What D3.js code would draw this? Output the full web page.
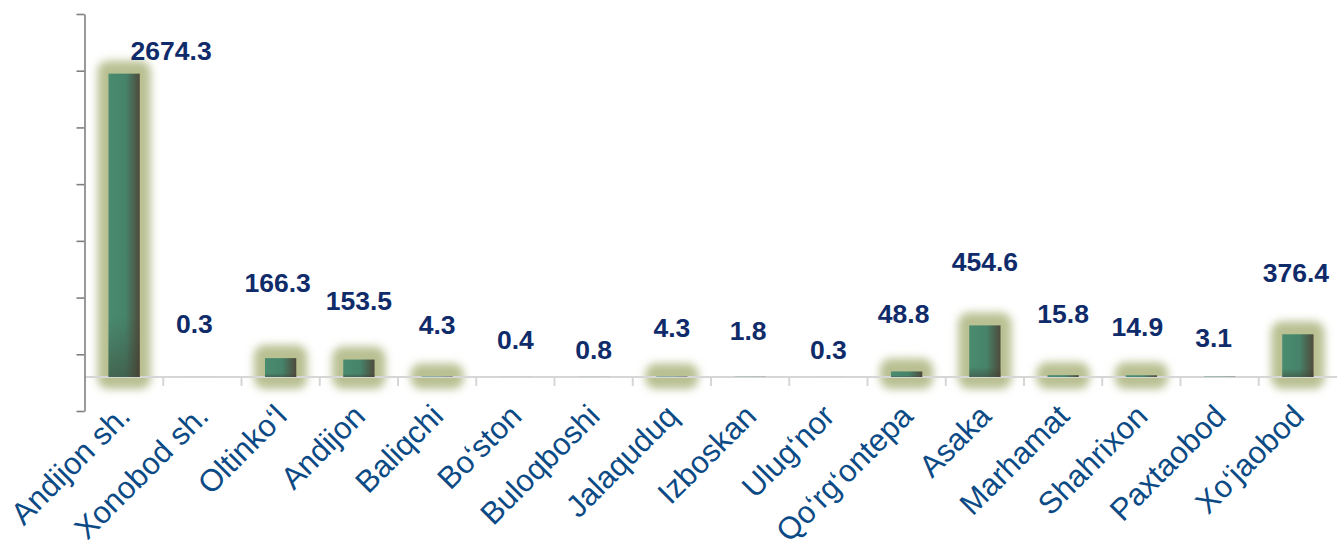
<!DOCTYPE html>
<meta charset="utf-8">
<style>
  body { margin: 0; background: #fff; }
  text { font-family: "Liberation Sans", Arial, sans-serif; }
</style>
<body>
<script src="https://cdnjs.cloudflare.com/ajax/libs/d3/7.8.5/d3.min.js"></script>
<script>
var categories = ["Andijon sh.", "Xonobod sh.", "Oltinko‘l", "Andijon", "Baliqchi", "Bo‘ston",
  "Buloqboshi", "Jalaquduq", "Izboskan", "Ulug‘nor", "Qo‘rg‘ontepa", "Asaka", "Marhamat",
  "Shahrixon", "Paxtaobod", "Xo‘jaobod"];
var values = [2674.3, 0.3, 166.3, 153.5, 4.3, 0.4, 0.8, 4.3, 1.8, 0.3, 48.8, 454.6, 15.8, 14.9, 3.1, 376.4];
// labels were placed by hand in the original, so keep where each one sits (value units)
var labelAt = [2798, 388, 750, 591, 380, 247, 159, 353, 327, 159, 477, 936, 477, 362, 265, 838];
var labelNudge = [47, -8, -3, 0, 0, 0, 0, 0, -2, 0, -3, 0, 0, -4, -6, -2];
var yTicks = d3.range(-300, 3201, 500);

var width = 1337, height = 540;

var svg = d3.select("body").append("svg")
  .attr("width", width)
  .attr("height", height);

var x = d3.scaleBand().domain(categories).range([85, 1337]).padding(0);
var y = d3.scaleLinear().domain([-300, 3200]).range([411, 14]);

var defs = svg.append("defs");
var grad = defs.append("linearGradient").attr("id", "barFill")
  .attr("x1", "0%").attr("x2", "100%").attr("y1", "0%").attr("y2", "0%");
grad.append("stop").attr("offset", "0%").attr("stop-color", "#4a8c70");
grad.append("stop").attr("offset", "55%").attr("stop-color", "#46836a");
grad.append("stop").attr("offset", "100%").attr("stop-color", "#4f4a3b");

var shade = defs.append("linearGradient").attr("id", "barShade")
  .attr("x1", "0%").attr("x2", "0%").attr("y1", "0%").attr("y2", "100%");
shade.append("stop").attr("offset", "80%").attr("stop-color", "#3c3a2c").attr("stop-opacity", 0);
shade.append("stop").attr("offset", "100%").attr("stop-color", "#3c3a2c").attr("stop-opacity", 0.45);

defs.append("filter").attr("id", "blur")
  .attr("x", "-50%").attr("y", "-50%").attr("width", "200%").attr("height", "200%")
  .append("feGaussianBlur").attr("stdDeviation", 4.5);

var data = categories.map(function(c, i) { return {name: c, value: values[i], i: i}; });
var barW = x.bandwidth() * 0.4;
function barX(d) { return x(d.name) + (x.bandwidth() - barW) / 2; }

// glow behind the bars
svg.append("g").selectAll("rect")
  .data(data.filter(function(d) { return d.value >= 4; }))
  .enter().append("rect")
  .attr("x", function(d) { return barX(d) - 11; })
  .attr("y", function(d) { return y(d.value) - 13; })
  .attr("width", barW + 22)
  .attr("height", function(d) { return y(0) - y(d.value) + 25; })
  .attr("rx", 11)
  .attr("fill", "#b9c092")
  .attr("filter", "url(#blur)");

// category baseline and band ticks
var base = svg.append("g").attr("stroke", "#d6d6d6").attr("stroke-width", 2);
base.append("line")
  .attr("x1", x.range()[0]).attr("x2", x.range()[1])
  .attr("y1", y(0)).attr("y2", y(0));
base.selectAll("line.tk")
  .data(categories.slice(1))
  .enter().append("line").attr("class", "tk")
  .attr("x1", function(d) { return x(d); })
  .attr("x2", function(d) { return x(d); })
  .attr("y1", y(0)).attr("y2", y(0) + 9);

// bars
var bars = svg.append("g");
bars.selectAll("rect.bar")
  .data(data)
  .enter().append("rect").attr("class", "bar")
  .attr("x", barX)
  .attr("y", function(d) { return y(d.value); })
  .attr("width", barW)
  .attr("height", function(d) { return y(0) - y(d.value); })
  .attr("fill", "url(#barFill)");
bars.selectAll("rect.shade")
  .data(data)
  .enter().append("rect").attr("class", "shade")
  .attr("x", barX)
  .attr("y", function(d) { return y(d.value); })
  .attr("width", barW)
  .attr("height", function(d) { return y(0) - y(d.value); })
  .attr("fill", "url(#barShade)");

// value axis, no labels
var yAxis = svg.append("g")
  .attr("transform", "translate(84.5,0)")
  .call(d3.axisLeft(y).tickValues(yTicks).tickSize(8).tickSizeOuter(0).tickFormat(""));
yAxis.selectAll("path, line").attr("stroke", "#808080").attr("stroke-width", 1.6);

// value labels
svg.append("g").selectAll("text")
  .data(data)
  .enter().append("text")
  .attr("x", function(d) { return x(d.name) + x.bandwidth() / 2 + labelNudge[d.i]; })
  .attr("y", function(d) { return y(labelAt[d.i]); })
  .attr("text-anchor", "middle")
  .attr("font-size", 26.5)
  .attr("font-weight", "bold")
  .attr("fill", "#0f2b6a")
  .text(function(d) { return d.value; });

// category labels
svg.append("g").selectAll("text")
  .data(categories)
  .enter().append("text")
  .attr("transform", function(d) {
    return "translate(" + (x(d) + x.bandwidth() / 2 + 8) + "," + (y(0) + 41) + ") rotate(-45)";
  })
  .attr("text-anchor", "end")
  .attr("font-size", 31)
  .attr("fill", "#0b4a84")
  .text(function(d) { return d; });
</script>
</body>
